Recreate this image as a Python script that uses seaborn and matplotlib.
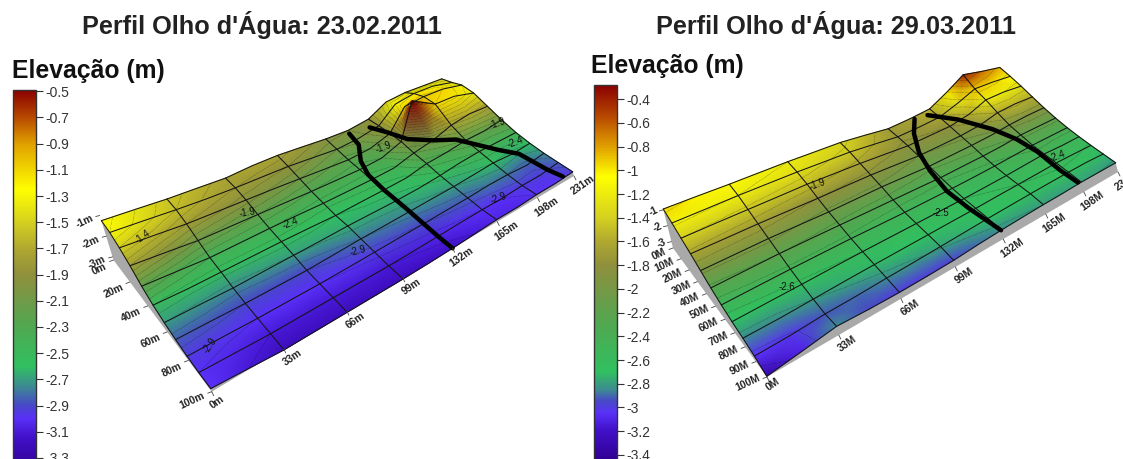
# Perfil Olho d'Agua - two elevation surfaces with colour scale
import numpy as np
import matplotlib
matplotlib.use('Agg')
import matplotlib.pyplot as plt
from matplotlib.cm import ScalarMappable
from matplotlib.colors import LinearSegmentedColormap, Normalize
import seaborn as sns

# ── DATA ────────────────────────────────────────────────────
dist_x = [0, 16.5, 33, 49.5, 66, 82.5, 99, 115.5, 132, 148.5, 165, 181.5, 198, 214.5, 231]
dist_y = [0, 10, 20, 30, 40, 50, 60, 70, 80, 90, 100]

# one line per dist_x, values along dist_y
elev_a = [
    [-1.25, -1.30, -1.50, -1.80, -2.20, -2.50, -2.70, -2.85, -2.95, -3.00, -3.00],
    [-1.40, -1.45, -1.65, -1.95, -2.30, -2.55, -2.72, -2.87, -2.97, -3.05, -3.10],
    [-1.55, -1.60, -1.80, -2.10, -2.40, -2.55, -2.75, -2.90, -3.00, -3.10, -3.20],
    [-1.65, -1.72, -1.88, -2.15, -2.40, -2.55, -2.72, -2.90, -3.00, -3.10, -3.20],
    [-1.75, -1.80, -1.95, -2.20, -2.40, -2.55, -2.70, -2.90, -3.00, -3.10, -3.20],
    [-1.72, -1.85, -2.02, -2.25, -2.42, -2.57, -2.68, -2.85, -2.98, -3.10, -3.20],
    [-1.75, -1.90, -2.10, -2.30, -2.45, -2.60, -2.65, -2.80, -2.95, -3.10, -3.20],
    [-1.85, -2.00, -2.18, -2.33, -2.45, -2.57, -2.65, -2.78, -2.92, -3.08, -3.18],
    [-1.95, -2.10, -2.25, -2.35, -2.45, -2.55, -2.65, -2.75, -2.90, -3.05, -3.15],
    [-2.00, -2.05, -2.20, -2.30, -2.42, -2.52, -2.62, -2.72, -2.87, -3.02, -3.10],
    [-1.90, -1.90, -1.95, -2.00, -2.20, -2.35, -2.55, -2.70, -2.85, -3.00, -3.05],
    [-1.50, -1.30, -1.10, -0.50, -2.05, -2.30, -2.45, -2.65, -2.80, -3.00, -3.05],
    [-1.45, -1.20, -1.05, -1.10, -1.80, -2.20, -2.40, -2.60, -2.80, -2.95, -3.00],
    [-1.50, -1.25, -1.10, -1.15, -1.70, -2.20, -2.40, -2.65, -2.85, -2.95, -3.00],
    [-1.55, -1.45, -1.30, -1.40, -1.75, -2.10, -2.40, -2.60, -2.75, -2.85, -2.95],
]
elev_b = [
    [-0.95, -1.15, -1.40, -1.65, -1.95, -2.25, -2.50, -2.70, -2.85, -3.05, -3.35],
    [-1.02, -1.18, -1.42, -1.68, -1.95, -2.22, -2.47, -2.67, -2.85, -3.02, -3.10],
    [-1.10, -1.20, -1.45, -1.70, -1.95, -2.20, -2.45, -2.65, -2.80, -2.92, -2.85],
    [-1.15, -1.25, -1.48, -1.75, -2.00, -2.22, -2.45, -2.62, -2.75, -2.90, -2.95],
    [-1.20, -1.30, -1.50, -1.80, -2.05, -2.25, -2.45, -2.60, -2.72, -2.85, -3.00],
    [-1.28, -1.38, -1.58, -1.82, -2.05, -2.28, -2.48, -2.60, -2.70, -2.82, -3.00],
    [-1.35, -1.45, -1.65, -1.85, -2.05, -2.30, -2.50, -2.60, -2.68, -2.78, -2.98],
    [-1.52, -1.60, -1.75, -1.92, -2.10, -2.32, -2.50, -2.60, -2.66, -2.74, -2.90],
    [-1.70, -1.75, -1.85, -2.00, -2.15, -2.35, -2.50, -2.60, -2.65, -2.70, -2.85],
    [-1.65, -1.72, -1.82, -1.98, -2.12, -2.32, -2.48, -2.58, -2.62, -2.68, -2.82],
    [-1.55, -1.65, -1.80, -1.95, -2.10, -2.30, -2.45, -2.55, -2.60, -2.66, -2.80],
    [-1.00, -1.30, -1.60, -1.85, -2.05, -2.25, -2.40, -2.50, -2.58, -2.65, -2.80],
    [-0.40, -0.90, -1.20, -1.60, -1.95, -2.15, -2.35, -2.45, -2.55, -2.65, -2.78],
    [-0.65, -0.95, -1.20, -1.55, -1.90, -2.15, -2.35, -2.50, -2.58, -2.66, -2.80],
    [-0.85, -1.05, -1.30, -1.60, -1.90, -2.15, -2.35, -2.50, -2.62, -2.72, -2.82],
]

# thick profile lines, metres along x / y
line1_a_x = [132, 132, 132, 132, 133, 137, 145, 147]
line1_a_y = [100, 90, 67, 50, 36, 25, 14, 3]
line1_b_x = [223, 221, 218, 209, 193, 181, 168, 165, 160]
line1_b_y = [99, 90, 72, 64, 47, 40, 33, 19, 7]
line2_a_x = [132, 129, 128, 130, 134, 142, 151]
line2_a_y = [100, 78, 60, 43, 28, 13, 2]
line2_b_x = [196, 195, 196, 193, 186, 173, 160]
line2_b_y = [99, 86, 66, 51, 37, 19, 4]

# colour scales
ticks_a = [-0.5, -0.7, -0.9, -1.1, -1.3, -1.5, -1.7, -1.9, -2.1, -2.3, -2.5, -2.7, -2.9, -3.1, -3.3]
ticklabels_a = ['-0.5', '-0.7', '-0.9', '-1.1', '-1.3', '-1.5', '-1.7', '-1.9', '-2.1', '-2.3',
                '-2.5', '-2.7', '-2.9', '-3.1', '-3.3']
ticks_b = [-0.4, -0.6, -0.8, -1, -1.2, -1.4, -1.6, -1.8, -2, -2.2, -2.4, -2.6, -2.8, -3, -3.2, -3.4]
ticklabels_b = ['-0.4', '-0.6', '-0.8', '-1', '-1.2', '-1.4', '-1.6', '-1.8', '-2', '-2.2',
                '-2.4', '-2.6', '-2.8', '-3', '-3.2', '-3.4']
shades = ['#8b0000', '#b84a00', '#e0a000', '#ffff00', '#d4d020', '#b0a830', '#90903c', '#709a48',
          '#50a850', '#30c060', '#3c8c90', '#4848c8', '#5a30f8', '#4010c8', '#300090']
shade_vals_a = [-0.49, -0.7, -0.9, -1.25, -1.5, -1.7, -1.9, -2.1, -2.3, -2.6, -2.75, -2.9, -3.0, -3.15, -3.4]
shade_vals_b = [-0.28, -0.55, -0.8, -1.05, -1.4, -1.6, -1.8, -2.05, -2.3, -2.7, -2.85, -2.95, -3.05, -3.2, -3.46]

# axis labels on the surfaces
xlabels_a = ['0m', '33m', '66m', '99m', '132m', '165m', '198m', '231m']
xlabels_b = ['0M', '33M', '66M', '99M', '132M', '165M', '198M', '231M']
xlabel_pos = [0, 33, 66, 99, 132, 165, 198, 231]
ylabels_a = ['0m', '20m', '40m', '60m', '80m', '100m']
ylabel_pos_a = [0, 20, 40, 60, 80, 100]
ylabels_b = ['0M', '10M', '20M', '30M', '40M', '50M', '60M', '70M', '80M', '90M', '100M']
ylabel_pos_b = [0, 10, 20, 30, 40, 50, 60, 70, 80, 90, 100]
zlabels_a = ['-1m', '-2m', '-3m']
zlabels_b = ['-1', '-2', '-3']
zlabel_pos = [-1, -2, -3]

# contour labels: text, pixel x, pixel y, rotation
notes_a = [('-1.4', 143, 237, 35), ('-1.9', 247, 213, 10), ('-2.4', 290, 223, 20),
           ('-2.9', 210, 345, 55), ('-2.9', 358, 251, 15), ('-2.9', 498, 198, 20),
           ('-2.4', 515, 142, 20), ('-1.9', 497, 123, 20), ('-1.9', 383, 147, 20)]
notes_b = [('-1.9', 817, 184, 20), ('-2.6', 787, 287, 0), ('-2.5', 941, 213, 0), ('-2.4', 1057, 156, 20)]

# ── STYLE ───────────────────────────────────────────────────
sns.set_style('white')
plt.rcParams['font.family'] = ['Liberation Sans', 'DejaVu Sans']

W, H = 1123, 459
fig = plt.figure(figsize=(W / 100, H / 100), dpi=100)
ax = fig.add_axes([0, 0, 1, 1])


def make_cmap(vals, cols):
    lo, hi = min(vals), max(vals)
    pairs = [((v - lo) / (hi - lo), c) for v, c in sorted(zip(vals, cols))]
    return LinearSegmentedColormap.from_list('elev', pairs, N=512), Normalize(lo, hi)


def make_view(corners):
    # ground plane (u=x/xmax, v=y/ymax) -> picture, from the 4 ground corners
    (x0, y0), (x1, y1), (x2, y2), (x3, y3) = corners
    sx, sy = x0 - x1 + x2 - x3, y0 - y1 + y2 - y3
    dx1, dy1, dx2, dy2 = x1 - x2, y1 - y2, x3 - x2, y3 - y2
    det = dx1 * dy2 - dx2 * dy1
    g = (sx * dy2 - dx2 * sy) / det
    h = (dx1 * sy - sx * dy1) / det
    a, b, c = x1 - x0 + g * x1, x3 - x0 + h * x3, x0
    d, e, f = y1 - y0 + g * y1, y3 - y0 + h * y3, y0

    def ground(x, y):
        u, v = np.asarray(x, float) / 231.0, np.asarray(y, float) / 100.0
        w = g * u + h * v + 1
        return (a * u + b * v + c) / w, (d * u + e * v + f) / w
    return ground


def surface_z(zgrid, x, y):
    # bilinear read of the surface under the profile lines
    xs, ys = np.array(dist_x), np.array(dist_y)
    out = []
    for px, py in zip(x, y):
        i = min(np.searchsorted(xs, px, side='right') - 1, len(xs) - 2)
        j = min(np.searchsorted(ys, py, side='right') - 1, len(ys) - 2)
        tx = (px - xs[i]) / (xs[i + 1] - xs[i])
        ty = (py - ys[j]) / (ys[j + 1] - ys[j])
        out.append((1 - tx) * (1 - ty) * zgrid[j, i] + tx * (1 - ty) * zgrid[j, i + 1]
                   + (1 - tx) * ty * zgrid[j + 1, i] + tx * ty * zgrid[j + 1, i + 1])
    return np.array(out)


def draw_panel(elev, corners, base, zvec, cmap, norm, profiles, xlabels, ylabels, ylabel_pos,
               zlabels, notes, levels, ylab_off, zero_off, zlab_off):
    zgrid = np.array(elev).T
    ground = make_view(corners)

    def project(x, y, z):
        gx, gy = ground(x, y)
        return gx + (np.asarray(z) - base) * zvec[0], gy + (np.asarray(z) - base) * zvec[1]

    xx, yy = np.meshgrid(dist_x, dist_y)
    px, py = project(xx, yy, zgrid)

    # grey side walls
    for i_side in ['left', 'front']:
        if i_side == 'left':
            ex, ey, ez = np.zeros(11), np.array(dist_y, float), zgrid[:, 0]
        else:
            ex, ey, ez = np.array(dist_x, float), np.full(15, 100.0), zgrid[-1, :]
        tx, ty = project(ex, ey, ez)
        bx, by = ground(ex, ey)
        ax.fill(np.r_[tx, bx[::-1]], np.r_[ty, by[::-1]], color='#a9a9a9', lw=0, zorder=1)

    ax.pcolormesh(px, py, zgrid, shading='gouraud', cmap=cmap, norm=norm, zorder=2)
    ax.contour(px, py, zgrid, levels=levels, colors='k', linewidths=0.35,
               linestyles=':', alpha=0.75, zorder=3)

    # grid lines: every row, every second column
    for j in range(len(dist_y)):
        ax.plot(px[j, :], py[j, :], color='#151515', lw=0.75, zorder=4)
    for i in range(0, len(dist_x), 2):
        ax.plot(px[:, i], py[:, i], color='#151515', lw=0.75, zorder=4)

    # thick profiles
    for lx, ly in profiles:
        mx, my = project(lx, ly, surface_z(zgrid, lx, ly))
        sns.lineplot(x=mx, y=my, sort=False, estimator=None, color='black', lw=3.2,
                     ax=ax, legend=False, zorder=5)

    # axis ticks + labels
    lab_style = dict(fontsize=7.5, fontweight='bold', color='#222222', zorder=6)
    for pos, lab in zip(xlabel_pos, xlabels):
        gx, gy = ground(pos, 100)
        ax.plot([gx, gx + 2], [gy, gy + 4], color='#444444', lw=0.6, zorder=6)
        if pos == 0:
            ax.text(gx + zero_off[0], gy + zero_off[1], lab, rotation=35, ha='center', va='center', **lab_style)
        else:
            ax.text(gx + 9, gy + 9, lab, rotation=35, ha='center', va='center', **lab_style)
    for pos, lab in zip(ylabel_pos, ylabels):
        gx, gy = ground(0, pos)
        ax.plot([gx - 4, gx], [gy + 1.5, gy], color='#444444', lw=0.6, zorder=6)
        ax.text(gx + ylab_off[0], gy + ylab_off[1], lab, rotation=25, ha='right', va='center', **lab_style)
    for pos, lab in zip(zlabel_pos, zlabels):
        gx, gy = project(0, 0, pos)
        ax.plot([gx - 4, gx], [gy + 1, gy], color='#444444', lw=0.6, zorder=6)
        ax.text(gx + zlab_off[0], gy + zlab_off[1], lab, rotation=25, ha='right', va='center', **lab_style)

    for txt, nx, ny, rot in notes:
        ax.text(nx, ny, txt, rotation=rot, fontsize=7, ha='center', va='center', color='#111111', zorder=6)


def draw_scale(left, right, top, bottom, vmin, vmax, cmap, norm, ticks, ticklabels):
    cax = fig.add_axes([left / W, 1 - bottom / H, (right - left) / W, (bottom - top) / H])
    cb = fig.colorbar(ScalarMappable(norm=norm, cmap=cmap), cax=cax, ticks=ticks)
    cb.ax.set_ylim(vmin, vmax)
    cb.ax.set_yticklabels(ticklabels, fontsize=10, color='#333333')
    cb.ax.tick_params(length=5, width=0.8, pad=1.5, color='#333333', right=True)
    cb.outline.set_edgecolor('#333333')
    cb.outline.set_linewidth(1.0)


# ── PANELS ──────────────────────────────────────────────────
cmap_a, norm_a = make_cmap(shade_vals_a, shades)
cmap_b, norm_b = make_cmap(shade_vals_b, shades)

draw_panel(elev_a, [(113.5, 260), (452, 112), (574, 176), (211.7, 391.7)], -3.15, (-6.4, -20.7),
           cmap_a, norm_a, [(line1_a_x, line1_a_y), (line1_b_x, line1_b_y)],
           xlabels_a, ylabels_a, ylabel_pos_a, zlabels_a, notes_a,
           np.arange(-3.3, -0.4, 0.1), (-5, 9), (5, 11), (-5, 6))
draw_panel(elev_b, [(673, 248), (1010, 108), (1118, 172), (767, 377)], -3.4, (-4.0, -15.9),
           cmap_b, norm_b, [(line2_a_x, line2_a_y), (line2_b_x, line2_b_y)],
           xlabels_b, ylabels_b, ylabel_pos_b, zlabels_b, notes_b,
           np.arange(-3.4, -0.3, 0.2), (-5, 6), (6, 7), (-4, 2))

ax.set_xlim(0, W)
ax.set_ylim(H, 0)
ax.axis('off')

draw_scale(13, 36, 90, 471, -3.4, -0.49, cmap_a, norm_a, ticks_a, ticklabels_a)
draw_scale(593.5, 617, 85, 462, -3.46, -0.28, cmap_b, norm_b, ticks_b, ticklabels_b)

# ── TITLES ──────────────────────────────────────────────────
ax.text(262, 25, "Perfil Olho d'Água: 23.02.2011", fontsize=18.2, fontweight='bold',
        ha='center', va='center', color='#222222')
ax.text(836, 25, "Perfil Olho d'Água: 29.03.2011", fontsize=18.2, fontweight='bold',
        ha='center', va='center', color='#222222')
ax.text(12, 71, 'Elevação (m)', fontsize=17.8, fontweight='bold', ha='left', va='center', color='#111111')
ax.text(591, 66, 'Elevação (m)', fontsize=17.8, fontweight='bold', ha='left', va='center', color='#111111')

fig.savefig('out.png', dpi=100)
